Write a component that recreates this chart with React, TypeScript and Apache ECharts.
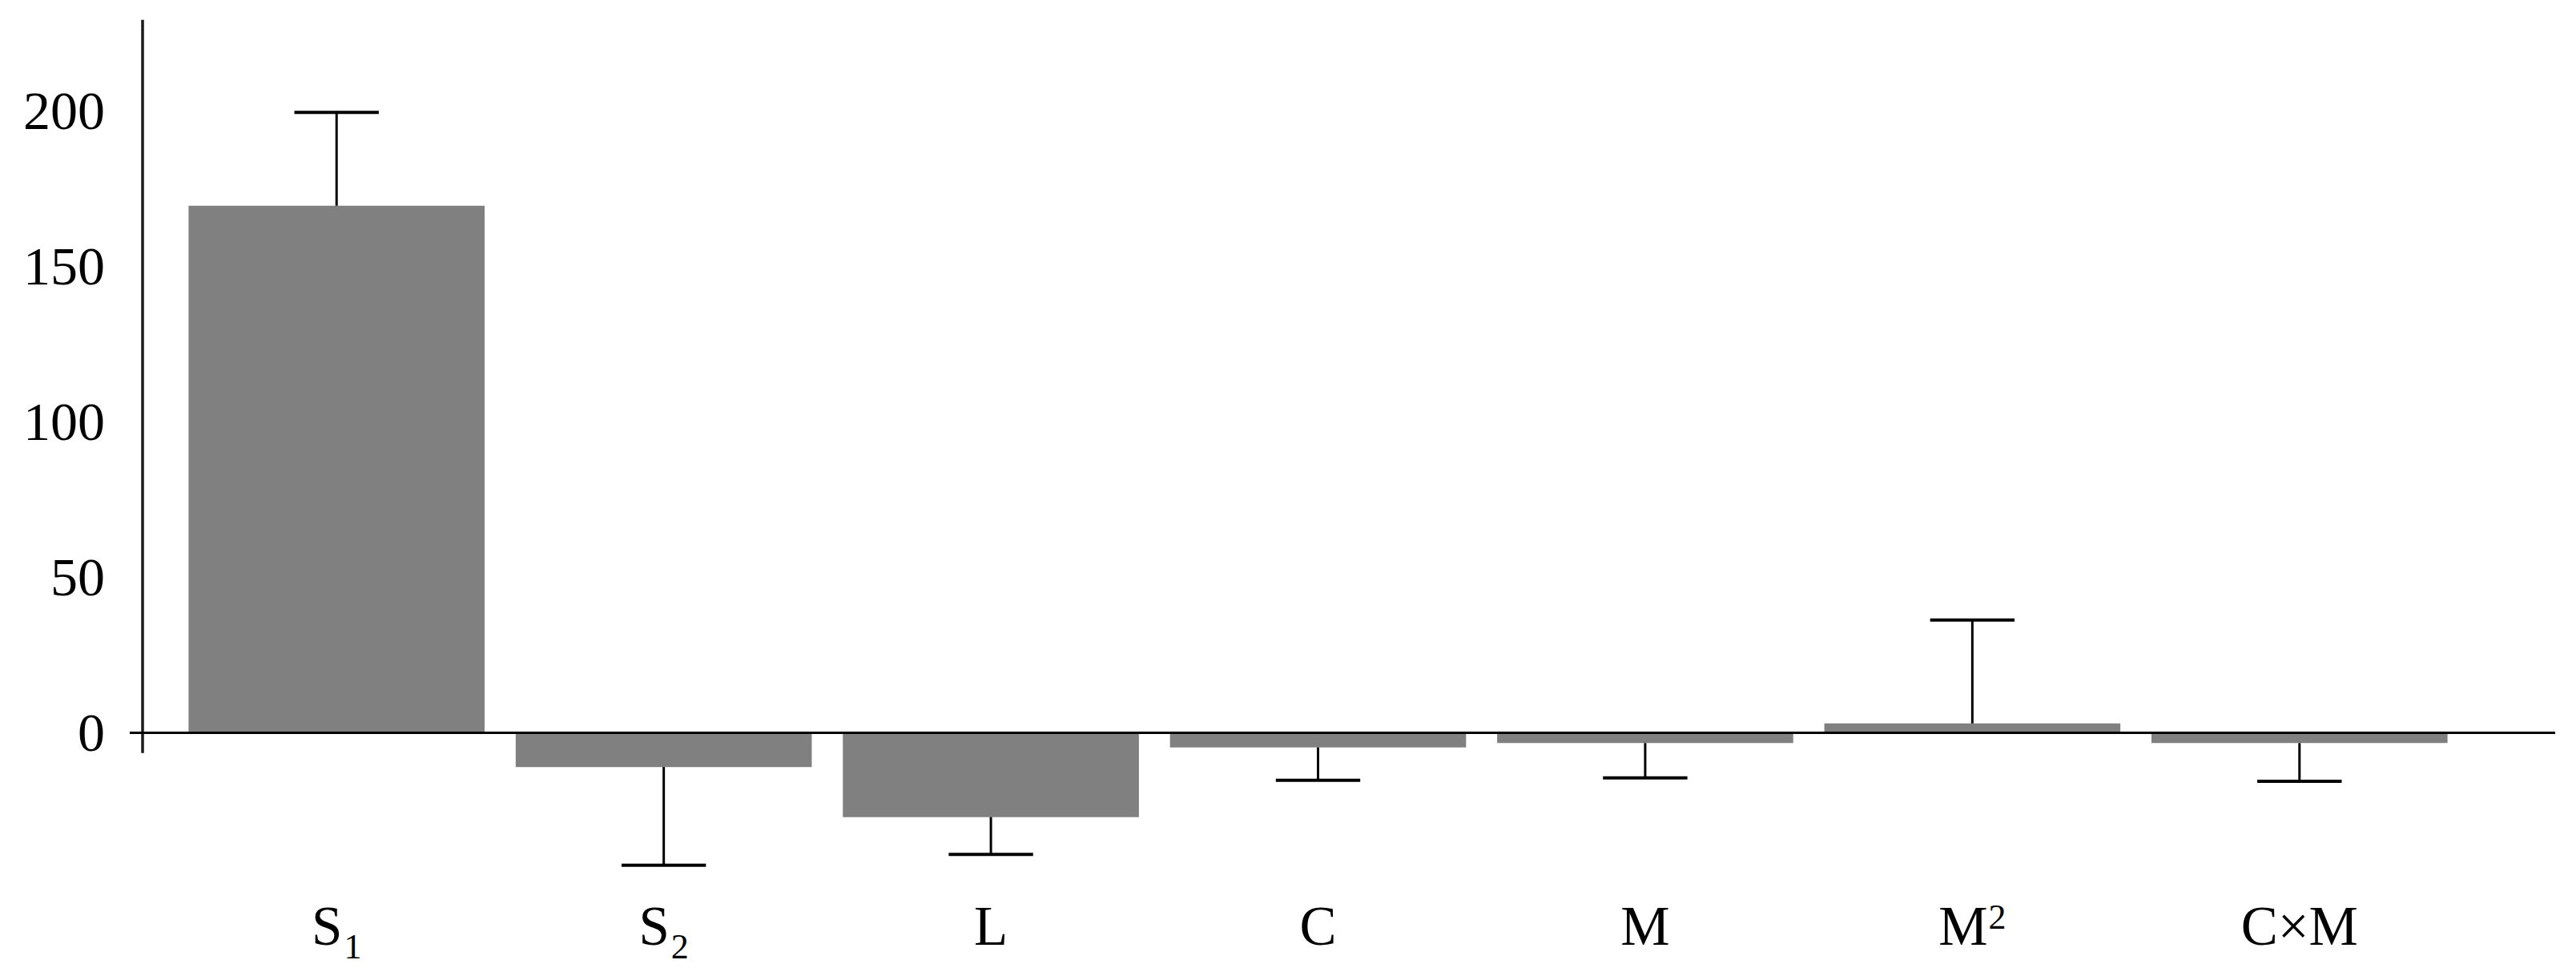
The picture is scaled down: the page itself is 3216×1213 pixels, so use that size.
import React, { useEffect, useRef } from "react";
import * as echarts from "echarts";

// ---- data ----
const categories = ["S1", "S2", "L", "C", "M", "M2", "C×M"];
const categoryLabels = [
  "{m|S}{sub|1}",
  "{m|S}{sub|2}",
  "{m|L}",
  "{m|C}",
  "{m|M}",
  "{m|M}{sup|2}",
  "{m|C×M}",
];
const effects = [169.5, -11.0, -27.1, -4.7, -3.3, 3.0, -3.3];
const errors = [30.0, 31.6, 12.0, 10.6, 11.2, 33.3, 12.3];
const yTickLabels = [0, 50, 100, 150, 200];

// axis extents
const Y_MIN = -50;
const Y_MAX = 230;
const Y_LINE_TOP = 229.3;
const Y_LINE_BOTTOM = -6.5;

const FONT = "'Liberation Serif', 'DejaVu Serif', serif";

export default function App() {
  const ref = useRef<HTMLDivElement>(null);

  useEffect(() => {
    document.body.style.margin = "0";
    if (!ref.current) return;
    const chart = echarts.init(ref.current, undefined, { renderer: "svg" });

    const option: any = {
      animation: false,
      backgroundColor: "#ffffff",
      grid: { left: 216, width: 2859, top: 22, height: 1086.5 },
      xAxis: {
        type: "category",
        data: categories,
        axisLine: { show: false },
        axisTick: { show: false },
        splitLine: { show: false },
        axisLabel: {
          interval: 0,
          margin: 13,
          formatter: (_v: string, i: number) => categoryLabels[i],
          rich: {
            m: { fontFamily: FONT, fontSize: 69, lineHeight: 68, color: "#000", verticalAlign: "top" },
            sub: { fontFamily: FONT, fontSize: 44, lineHeight: 44, color: "#000", verticalAlign: "top", padding: [38, 0, 0, 2] },
            sup: { fontFamily: FONT, fontSize: 44, lineHeight: 44, color: "#000", verticalAlign: "top", padding: [1, 0, 0, 1] },
          },
        },
      },
      yAxis: {
        type: "value",
        min: Y_MIN,
        max: Y_MAX,
        interval: 50,
        axisLine: { show: false },
        axisTick: { show: false },
        splitLine: { show: false },
        axisLabel: {
          margin: 85,
          fontFamily: FONT,
          fontSize: 68,
          color: "#000",
          formatter: (v: number) => (yTickLabels.indexOf(v) >= 0 ? String(v) : ""),
        },
      },
      series: [
        {
          type: "bar",
          data: effects,
          barWidth: "90.5%",
          itemStyle: { color: "#808080" },
          z: 2,
        },
        {
          type: "custom",
          data: effects.map((v, i) => [i, v, errors[i]]),
          encode: { x: 0, y: 1 },
          z: 3,
          renderItem: (_params: any, api: any) => {
            const i = api.value(0);
            const v = api.value(1);
            const e = api.value(2);
            const end = v >= 0 ? v + e : v - e;
            const p0 = api.coord([i, v]);
            const p1 = api.coord([i, end]);
            const bw = api.size([1, 0])[0];
            const half = bw * 0.129;
            return {
              type: "group",
              children: [
                {
                  type: "line",
                  shape: { x1: p0[0], y1: p0[1], x2: p1[0], y2: p1[1] },
                  style: { stroke: "#000", lineWidth: 3 },
                },
                {
                  type: "line",
                  shape: { x1: p1[0] - half, y1: p1[1], x2: p1[0] + half, y2: p1[1] },
                  style: { stroke: "#000", lineWidth: 4 },
                },
              ],
            };
          },
        },
      ],
    };

    chart.setOption(option);

    const yTop = chart.convertToPixel({ yAxisIndex: 0 }, Y_LINE_TOP) as number;
    const yBot = chart.convertToPixel({ yAxisIndex: 0 }, Y_LINE_BOTTOM) as number;
    const y0 = chart.convertToPixel({ yAxisIndex: 0 }, 0) as number;

    chart.setOption({
      graphic: [
        {
          type: "line",
          z: 100,
          shape: { x1: 178, y1: yTop, x2: 178, y2: yBot },
          style: { stroke: "#1a1a1a", lineWidth: 3.5 },
        },
        {
          type: "line",
          z: 100,
          shape: { x1: 162, y1: y0, x2: 3190, y2: y0 },
          style: { stroke: "#000", lineWidth: 3 },
        },
      ],
    });

    return () => chart.dispose();
  }, []);

  return <div ref={ref} style={{ width: 3216, height: 1213 }} />;
}
